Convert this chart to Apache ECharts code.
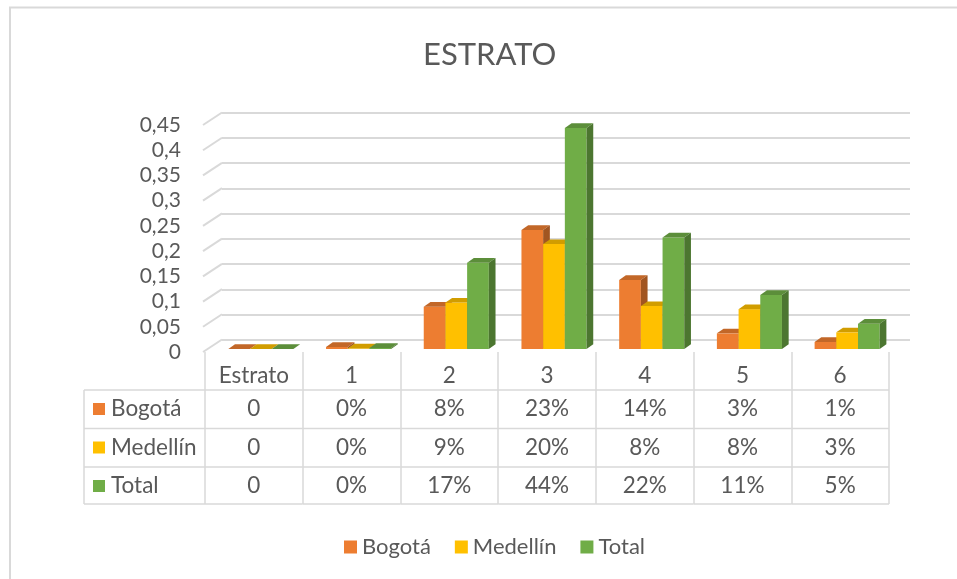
<!DOCTYPE html>
<html lang="es">
<head>
<meta charset="UTF-8">
<title>Estrato</title>
<script src="https://cdn.jsdelivr.net/npm/echarts@6/dist/echarts.min.js"></script>
<style>html,body{margin:0;padding:0;background:#fff;}</style>
</head>
<body>
<div id="main" style="width:957px;height:579px;"></div>
<script>
// datos
var categorias = ['Estrato', '1', '2', '3', '4', '5', '6'];
var nombres = ['Bogotá', 'Medellín', 'Total'];
var colores = ['#ED7D31', '#FFC000', '#70AD47'];
var bogota   = [0, 0.004, 0.084, 0.236, 0.137, 0.031, 0.014];
var medellin = [0, 0.001, 0.092, 0.208, 0.085, 0.079, 0.033];
var total    = [0, 0.002, 0.171, 0.438, 0.221, 0.107, 0.050];
// textos de la tabla de datos
var tablaBogota   = ['0', '0%', '8%', '23%', '14%', '3%', '1%'];
var tablaMedellin = ['0', '0%', '9%', '20%', '8%', '8%', '3%'];
var tablaTotal    = ['0', '0%', '17%', '44%', '22%', '11%', '5%'];
var marcasY = [0, 0.05, 0.1, 0.15, 0.2, 0.25, 0.3, 0.35, 0.4, 0.45];

var valores = [bogota, medellin, total];
var tabla = [tablaBogota, tablaMedellin, tablaTotal];
var fuente = 'Lato, "Open Sans", sans-serif';
var gris = '#595959';
var linea = '#d9d9d9';
// profundidad 3D
var dx = 6.7, dy = 4.7;

function oscurecer(hex, f) {
    var n = parseInt(hex.slice(1), 16);
    var r = Math.round(((n >> 16) & 255) * f);
    var g = Math.round(((n >> 8) & 255) * f);
    var b = Math.round((n & 255) * f);
    return 'rgb(' + r + ',' + g + ',' + b + ')';
}

function barra3d(k) {
    return function (params, api) {
        var cat = api.value(0), v = api.value(1);
        var base = api.coord([cat, 0]);
        var tope = api.coord([cat, v]);
        var banda = api.size([1, 0])[0];
        var bw = banda * 0.222;
        var x0 = base[0] + 7 - 1.5 * bw + k * bw;
        var yb = base[1] - 3, yt = tope[1] - 3;
        return {
            type: 'group',
            children: [
                {type: 'rect', shape: {x: x0, y: yt, width: bw, height: yb - yt},
                    style: {fill: colores[k]}},
                {type: 'polygon', shape: {points: [[x0, yt], [x0 + bw, yt], [x0 + bw + dx, yt - dy], [x0 + dx, yt - dy]]},
                    style: {fill: oscurecer(colores[k], 0.82)}},
                {type: 'polygon', shape: {points: [[x0 + bw, yt], [x0 + bw + dx, yt - dy], [x0 + bw + dx, yb - dy], [x0 + bw, yb]]},
                    style: {fill: oscurecer(colores[k], 0.68)}}
            ]
        };
    };
}

var myChart = echarts.init(document.getElementById('main'));

var seriesBarras = nombres.map(function (n, k) {
    return {
        name: n,
        type: 'custom',
        xAxisIndex: 0,
        yAxisIndex: 0,
        itemStyle: {color: colores[k]},
        renderItem: barra3d(k),
        data: categorias.map(function (c, i) { return [i, valores[k][i]]; }),
        z: 5
    };
});

// líneas diagonales del lado izquierdo (pared 3D)
var serieDiagonales = {
    type: 'custom',
    xAxisIndex: 0,
    yAxisIndex: 0,
    silent: true,
    renderItem: function (params, api) {
        var cs = params.coordSys;
        var y = api.coord([0, api.value(1)])[1];
        return {type: 'line', shape: {x1: cs.x - 2, y1: y, x2: cs.x + 17, y2: y - 12.5},
            style: {stroke: linea, lineWidth: 2}};
    },
    data: marcasY.map(function (v) { return [0, v]; }),
    z: 1
};

// tabla de datos bajo el gráfico
var serieTabla = {
    type: 'custom',
    xAxisIndex: 0,
    yAxisIndex: 0,
    silent: true,
    renderItem: function (params, api) {
        var i = api.value(0);
        var p = api.coord([i, 0]);
        var banda = api.size([1, 0])[0];
        var xl = p[0] - banda / 2, xr = p[0] + banda / 2;
        var hijos = [];
        var filasY = [38, 76.5, 115, 152];
        filasY.forEach(function (h) {
            hijos.push({type: 'line', shape: {x1: xl, y1: p[1] + h, x2: xr, y2: p[1] + h},
                style: {stroke: linea, lineWidth: 1.5}});
        });
        for (var r = 0; r < 3; r++) {
            hijos.push({type: 'text', style: {
                text: tabla[r][i], x: p[0], y: p[1] + 57 + r * 38.5,
                align: 'center', verticalAlign: 'middle',
                fill: gris, font: '22.5px ' + fuente
            }});
        }
        if (i === 0) {
            var xi = xl - 121;
            filasY.forEach(function (h) {
                hijos.push({type: 'line', shape: {x1: xi, y1: p[1] + h, x2: xl, y2: p[1] + h},
                    style: {stroke: linea, lineWidth: 1.5}});
            });
            hijos.push({type: 'line', shape: {x1: xi, y1: p[1] + 38, x2: xi, y2: p[1] + 152},
                style: {stroke: linea, lineWidth: 1.5}});
            for (var s = 0; s < 3; s++) {
                var yc = p[1] + 57 + s * 38.5;
                hijos.push({type: 'rect', shape: {x: xi + 9, y: yc - 6, width: 12, height: 12},
                    style: {fill: colores[s]}});
                hijos.push({type: 'text', style: {
                    text: nombres[s], x: xi + 27, y: yc,
                    align: 'left', verticalAlign: 'middle',
                    fill: gris, font: '22.5px ' + fuente
                }});
            }
        }
        return {type: 'group', children: hijos};
    },
    data: categorias.map(function (c, i) { return [i, 0]; }),
    z: 2
};

myChart.setOption({
    animation: false,
    title: {
        text: 'ESTRATO',
        left: 418,
        top: 34,
        textStyle: {color: gris, fontFamily: fuente, fontWeight: 'normal', fontSize: 31}
    },
    legend: {
        data: nombres,
        left: 339,
        top: 531,
        icon: 'rect',
        itemWidth: 13,
        itemHeight: 13,
        itemGap: 24,
        textStyle: {color: gris, fontFamily: fuente, fontSize: 22}
    },
    graphic: [
        {type: 'rect', shape: {x: 10, y: 7.5, width: 1200, height: 1200},
            style: {fill: 'none', stroke: '#d9d9d9', lineWidth: 2}, silent: true, z: -10}
    ],
    grid: [
        {left: 205, right: 68, top: 125, bottom: 227},
        {left: 222, right: 47, top: 112.5, bottom: 239}
    ],
    xAxis: [
        {
            type: 'category',
            gridIndex: 0,
            data: categorias,
            axisLine: {show: false},
            axisTick: {show: true, interval: 0, length: 152, lineStyle: {color: linea, width: 1.5}},
            axisLabel: {color: gris, fontFamily: fuente, fontSize: 22.5, margin: 12, interval: 0}
        },
        {type: 'value', gridIndex: 1, min: 0, max: 1, show: false}
    ],
    yAxis: [
        {
            type: 'value',
            gridIndex: 0,
            min: 0,
            max: 0.45,
            interval: 0.05,
            axisLine: {show: false},
            axisTick: {show: false},
            splitLine: {show: false},
            axisLabel: {
                color: gris, fontFamily: fuente, fontSize: 21, margin: 24,
                formatter: function (v) { return String(Math.round(v * 100) / 100).replace('.', ','); }
            }
        },
        {
            type: 'value',
            gridIndex: 1,
            min: 0,
            max: 0.45,
            interval: 0.05,
            axisLine: {show: false},
            axisTick: {show: false},
            axisLabel: {show: false},
            splitLine: {show: true, lineStyle: {color: linea, width: 2}}
        }
    ],
    series: [serieDiagonales, serieTabla].concat(seriesBarras)
});
</script>
</body>
</html>
